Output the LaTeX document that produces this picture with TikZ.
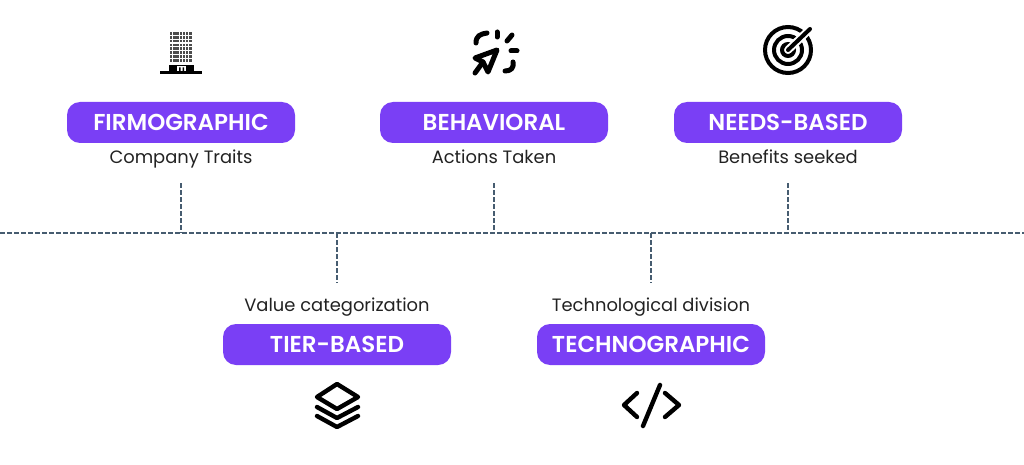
\documentclass[tikz,border=0pt]{standalone}
\usepackage{fontspec}
\setmainfont{Poppins}[BoldFont={Poppins SemiBold}]
\definecolor{pillviolet}{HTML}{7A3FF5}
\definecolor{axisslate}{HTML}{465C70}
\definecolor{subgray}{HTML}{222222}
\tikzset{
	pill/.style={fill=pillviolet, rounded corners=13pt, minimum width=228pt, minimum height=41pt, inner sep=0pt, text=white, font=\fontsize{23}{27}\selectfont\bfseries},
	sublabel/.style={anchor=base, text=subgray, inner sep=0pt, font=\fontsize{17.9}{21}\selectfont},
	axisline/.style={color=axisslate, line width=1.3pt, dash pattern=on 5pt off 2pt},
	icon/.style={line width=4.4pt, line cap=round, line join=round}
}

\begin{document}
\begin{tikzpicture}[x=1pt,y=-1pt]
\useasboundingbox (0,0) rectangle (1024,465);

%% Eje %%
\coordinate (axisL) at (0,233);
\coordinate (axisR) at (1024,233);
\draw[axisline] (axisL) -- (axisR);

%% Arriba %%
\foreach \name/\x/\title/\sub in {firmo/181/FIRMOGRAPHIC/Company Traits,behav/494/BEHAVIORAL/Actions Taken,needs/788/NEEDS-BASED/Benefits seeked}
{
	\node[pill] (\name) at (\x,122.5) {\title};
	\node[sublabel] (\name Sub) at (\x,164) {\sub};
	\coordinate (\name Top) at (\x,183);
	\coordinate (\name Axis) at (\x,233);
	\draw[axisline] (\name Top) -- (\name Axis);
}

%% Abajo %%
\foreach \name/\x/\title/\sub in {tier/337/TIER-BASED/Value categorization,techno/651/TECHNOGRAPHIC/Technological division}
{
	\node[pill] (\name) at (\x,344.5) {\title};
	\node[sublabel] (\name Sub) at (\x,311.5) {\sub};
	\coordinate (\name Axis) at (\x,233);
	\coordinate (\name End) at (\x,283);
	\draw[axisline] (\name Axis) -- (\name End);
}

%% Edificio %%
\foreach \i in {0,...,6}
	\foreach \j in {0,...,7}
		\fill[black!70] (170+3.2*\i,32+3.85*\j) rectangle ++(2.3,2.8);
\fill (169,65) rectangle (194,71);
\fill[white] (177,66.5) rectangle (186,71);
\fill (179,67.5) rectangle (180.5,71) (182.5,67.5) rectangle (184,71);
\fill (160,71.5) rectangle (202,74);

%% Cursor %%
\draw[icon, line width=5pt] (497,50) -- (475,58) -- (483,62) -- (488,72) -- cycle;
\draw[icon, line width=5pt] (483,62) -- (475,73);
\draw[icon, line width=5pt] (476,43) .. controls (476,36) and (480,34) .. (487,33);
\draw[icon, line width=5pt] (497,32) -- (497,37);
\draw[icon, line width=5pt] (512,35) -- (507,41);
\draw[icon, line width=5pt] (511,51) -- (517,51);
\draw[icon, line width=5pt] (513,62) .. controls (514,68) and (511,71) .. (505,71);

%% Diana %%
\foreach \r in {23,14,6}
	\draw[line width=4pt] (788,50) circle[radius=\r];
\draw[white, line width=8pt] (788,50) -- (812,27);
\draw[icon, line width=4pt] (788,50) -- (810,29);

%% Capas %%
\draw[icon] (337,384) -- (358,397) -- (337,409) -- (317,397) -- cycle;
\draw[icon] (317,407) -- (337,418) -- (358,407);
\draw[icon] (317,416) -- (337,427) -- (358,416);

%% Codigo %%
\draw[icon] (637,393) -- (624,405) -- (637,417);
\draw[icon] (660,385) -- (643,426);
\draw[icon] (665,393) -- (679,405) -- (665,417);
\end{tikzpicture}
\end{document}
